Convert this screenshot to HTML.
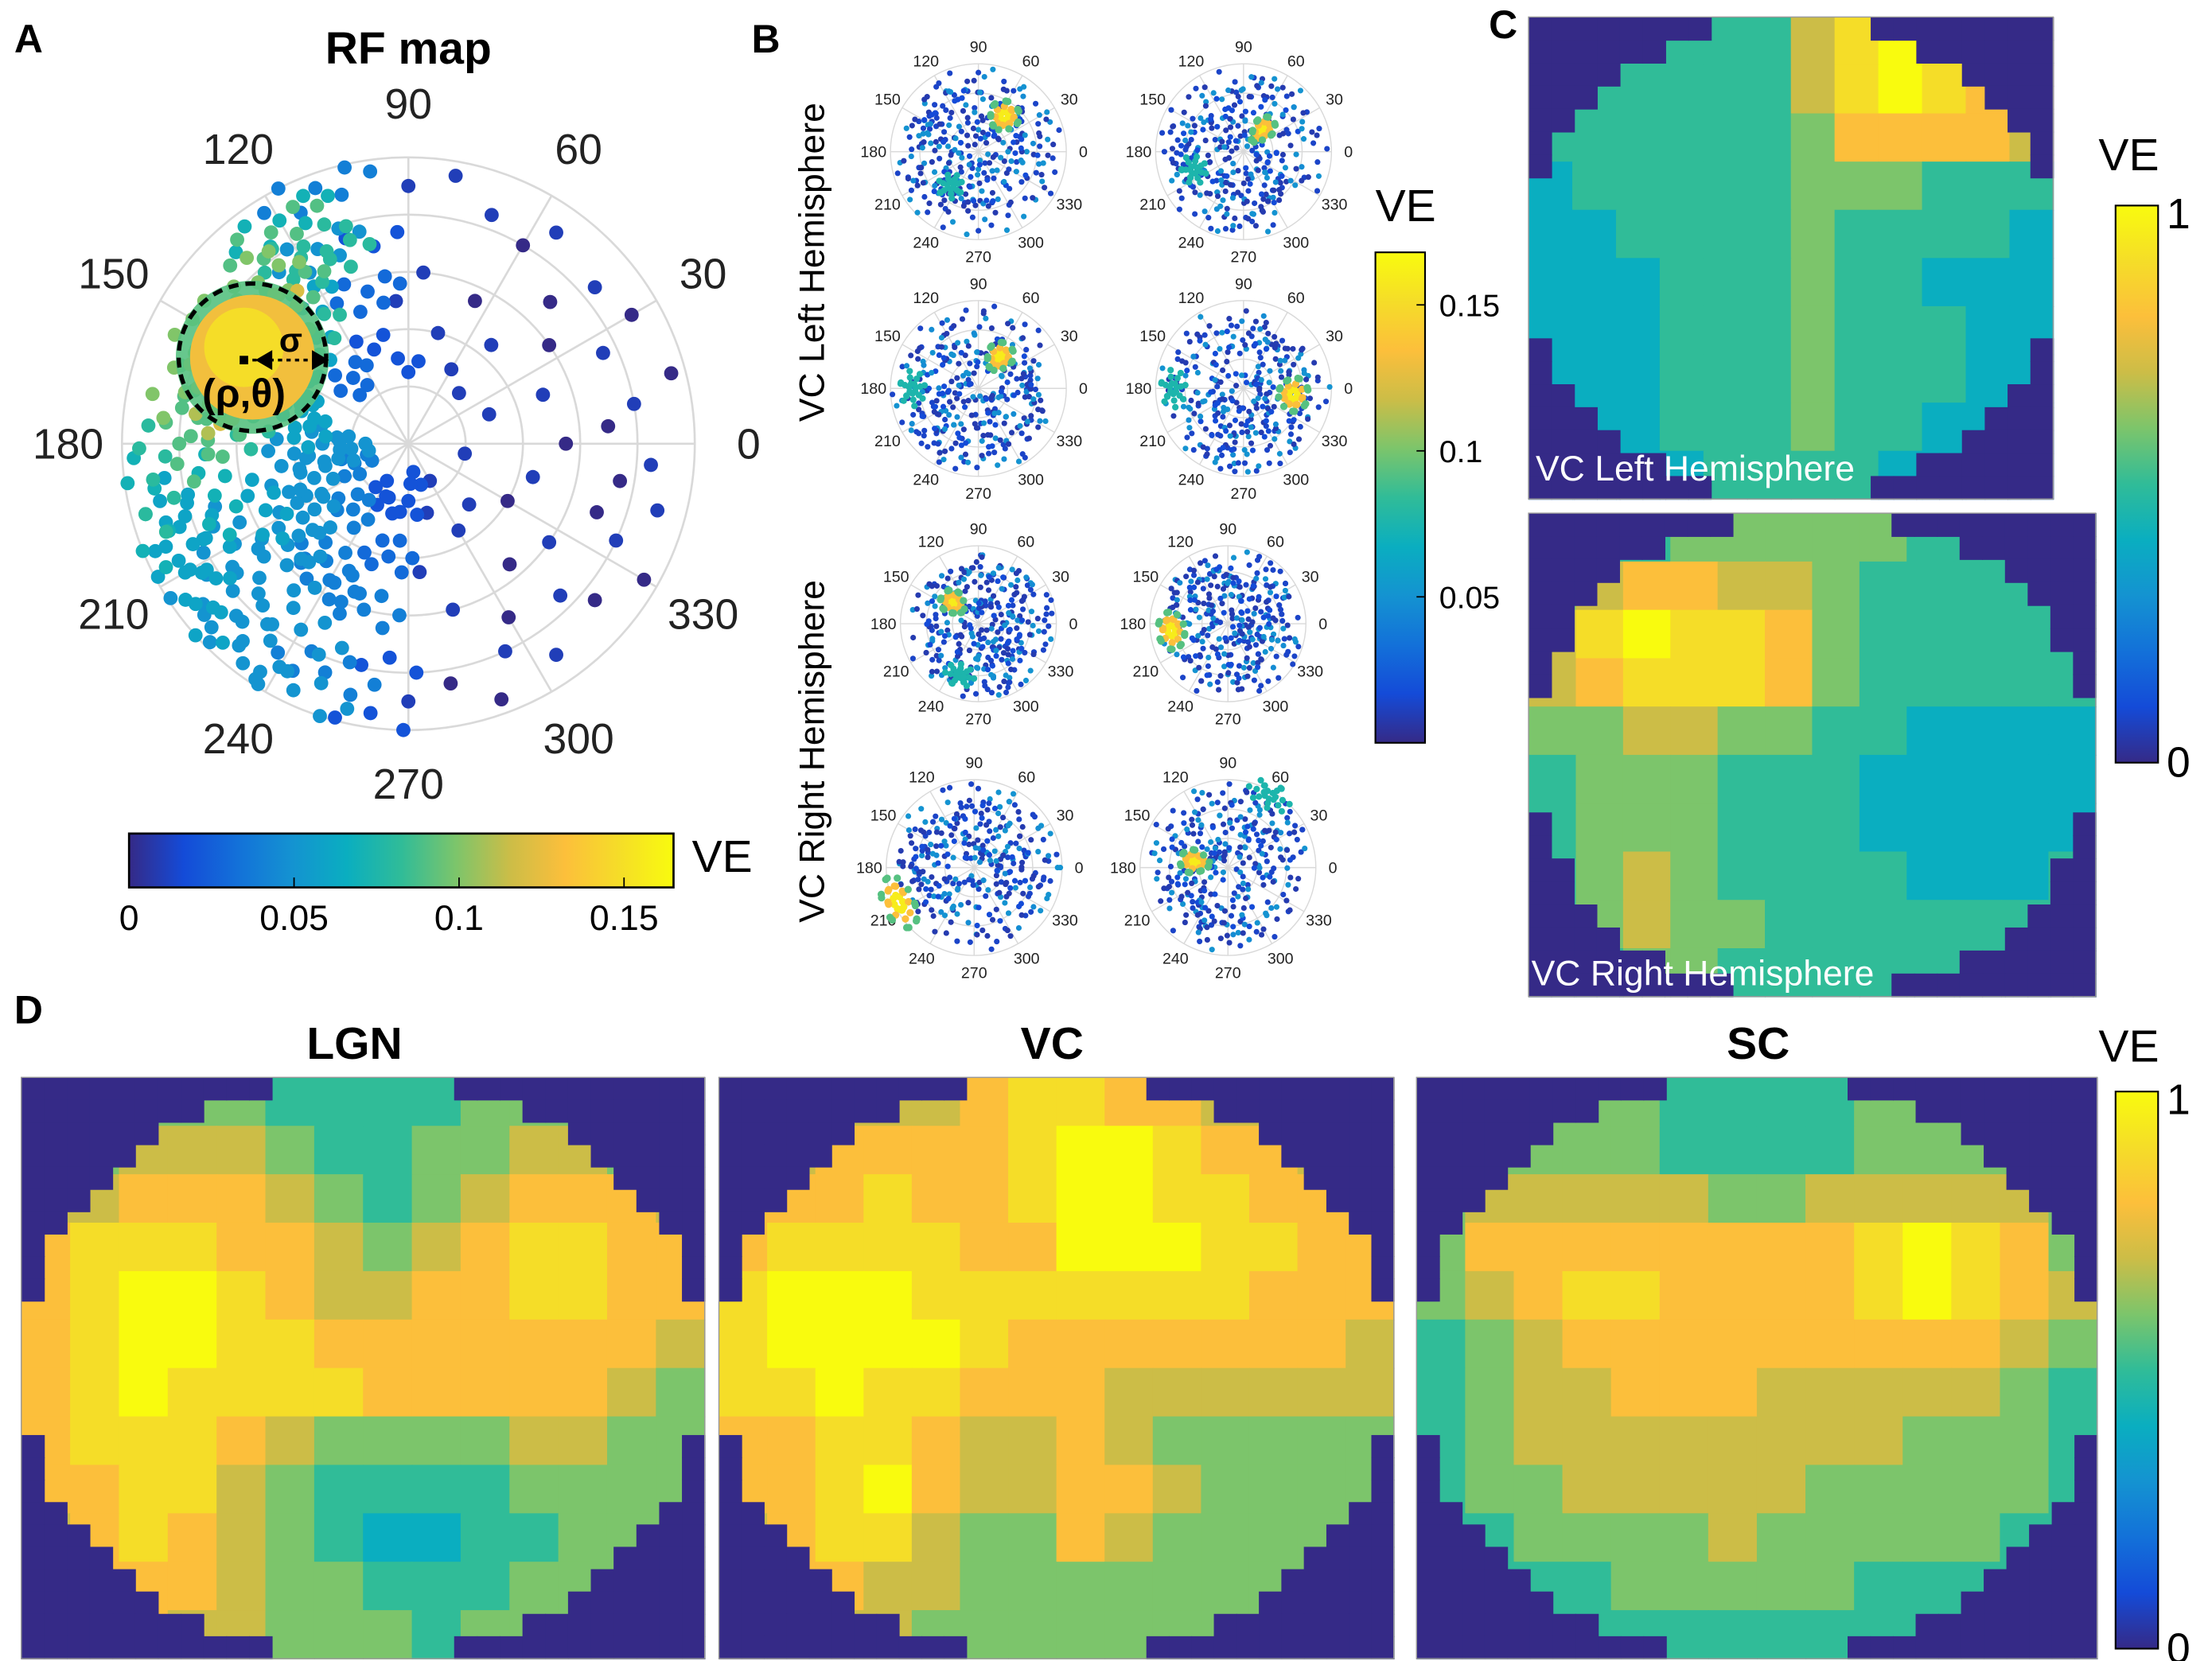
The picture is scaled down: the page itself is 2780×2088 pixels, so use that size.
<!DOCTYPE html>
<html><head><meta charset="utf-8"><style>
html,body{margin:0;padding:0;background:#fff;}
svg{display:block;font-family:"Liberation Sans",sans-serif;}
</style></head><body>
<svg id="fig" width="2780" height="2088" viewBox="0 0 1560 1171.7" xmlns="http://www.w3.org/2000/svg">
<defs>
<linearGradient id="gH" x1="0" x2="1" y1="0" y2="0"></linearGradient>
<linearGradient id="gV" x1="0" x2="0" y1="1" y2="0"></linearGradient>
</defs>
<g id="layer"></g>
<text x="10" y="37" font-size="28" font-weight="bold">A</text>
<text x="288" y="45" font-size="32" font-weight="bold" text-anchor="middle">RF map</text>
<text x="530" y="37" font-size="28" font-weight="bold">B</text>
<text x="1050" y="27" font-size="28" font-weight="bold">C</text>
<text x="10" y="722" font-size="28" font-weight="bold">D</text>
<text x="250" y="747" font-size="32" font-weight="bold" text-anchor="middle">LGN</text>
<text x="742" y="747" font-size="32" font-weight="bold" text-anchor="middle">VC</text>
<text x="1240" y="747" font-size="32" font-weight="bold" text-anchor="middle">SC</text>
<text transform="translate(581,185) rotate(-90)" font-size="25" text-anchor="middle">VC Left Hemisphere</text>
<text transform="translate(581,530) rotate(-90)" font-size="25" text-anchor="middle">VC Right Hemisphere</text>
</svg>
<script>
const NS='http://www.w3.org/2000/svg';
const L=document.getElementById('layer');
const PAR=[[0,'#352a87'],[.1,'#144bd8'],[.2,'#1371d9'],[.3,'#1493d1'],[.4,'#0aaec0'],[.5,'#30bc98'],[.6,'#7cc56b'],[.7,'#ccbd47'],[.8,'#fcbf3b'],[.9,'#f5dd28'],[1,'#f9fb0e']];

// ---- Panel A data: theta (deg), rho (fraction of radius), variance explained
const aTheta=[152,147,157,150,144,155,160,141,149,162,138,153,165,
 133,128,138,168,172,118,123,178,162,143,130,170,113,
 200,210,220,230,215,240,195,205,225,235,250,245,190,200,215,120,115,110,128,138,150,160,170,180,185,200,230,255,260,195,210,225,240,220,188,205,
 90,80,70,60,55,45,40,30,25,15,10,5,355,350,345,340,335,330,325,320,315,310,305,300,295,290,285,280,275,270,265,262,100,95,85,75,65,50,35,20,0,345,330,315,300,285,270,250,240,280,300,350,20,45,60,90,110,130,105];
const aRho=[.65,.63,.68,.71,.69,.61,.62,.61,.56,.66,.65,.76,.7,
 .73,.66,.82,.8,.65,.78,.88,.76,.86,.52,.5,.55,.7,
 .85,.7,.8,.9,.95,.75,.95,.55,.6,.5,.85,.95,.45,.35,.4,.9,.75,.95,.6,.45,.45,.4,.35,.3,.2,.2,.3,.6,.4,.7,.88,.98,.55,.5,.9,.78,
 .9,.95,.85,.8,.9,.7,.85,.9,.75,.95,.8,.7,.85,.75,.9,.7,.8,.95,.6,.85,.75,.55,.9,.7,.8,.95,.6,.85,.45,.9,.75,.95,.7,.5,.6,.4,.55,.45,.6,.5,.55,.45,.4,.3,.35,.25,.2,.2,.15,.1,.15,.2,.3,.25,.3,.25,.35,.3,.55];
const aVE=[.16,.15,.15,.16,.14,.14,.13,.13,.12,.12,.12,.13,.11,
 .1,.09,.1,.09,.09,.08,.09,.09,.1,.1,.08,.08,.08,
 .06,.05,.05,.05,.06,.05,.07,.06,.05,.04,.04,.05,.05,.05,.05,.07,.05,.04,.06,.06,.07,.06,.06,.05,.05,.04,.04,.04,.03,.07,.06,.05,.04,.05,.08,.06,
 .01,.01,.01,0,.01,0,.01,0,.01,0,.01,0,.01,0,.01,0,.01,0,.01,0,.01,0,.01,0,.01,0,.01,0,.01,.01,.02,.02,.02,.01,.01,.01,0,.01,0,.01,0,.01,0,.01,.01,.01,.02,.02,.02,.02,.01,.01,.01,.01,.01,.02,.02,.03,.03];
const aTicks=[0,0.05,0.1,0.15];

// ---- Panel B data
const bHotTheta=[54,49,56,353,140,187,205,170];
const bHotRho=[.5,.32,.43,.57,.42,.73,.95,.38];
const bSecTheta=[231,200,180,180,250,0,0,60];
const bSecRho=[.5,.6,.75,.8,.7,0,0,.95];
const bTicks=[0.05,0.1,0.15];

// ---- Heatmaps (VE x10)
const lgn=[[6,6,6,6,6,5,5,5,5,6,6,6,6,6],[6,6,7,7,7,6,5,5,6,6,7,7,6,6],[7,7,8,8,8,7,6,5,6,7,8,8,8,7],[8,9,9,9,8,8,7,6,7,8,9,9,8,8],[8,9,10,10,9,8,7,7,8,8,9,9,8,8],[8,9,10,10,9,9,8,8,8,8,8,8,8,7],[8,9,10,9,9,9,9,8,8,8,8,8,7,6],[8,9,9,9,8,7,6,6,6,6,7,7,6,6],[8,8,9,9,7,6,5,5,5,5,6,6,6,6],[7,8,9,8,7,6,5,4,4,5,5,6,6,6],[7,8,8,8,7,6,6,5,5,5,6,6,6,6],[7,7,8,7,7,6,6,6,5,6,6,6,6,6]];
const vc=[[7,7,7,7,7,8,9,9,8,8,7,7,7,7],[7,7,8,8,8,8,9,10,10,9,8,8,7,7],[8,8,8,9,8,8,9,10,10,9,9,8,8,8],[8,9,9,9,9,8,8,10,10,10,9,9,8,8],[9,10,10,10,9,9,9,9,9,9,9,8,8,8],[9,10,10,10,10,9,8,8,8,8,8,8,8,7],[9,9,10,9,9,8,8,8,7,7,7,7,7,7],[8,8,9,9,8,7,7,8,7,6,6,6,6,6],[8,8,9,10,8,7,7,8,8,7,6,6,6,6],[7,8,9,9,7,6,6,8,7,6,6,6,6,6],[7,8,8,7,7,6,6,6,6,6,6,6,6,6],[7,7,7,7,6,6,6,6,6,6,6,6,6,6]];
const sc=[[6,6,6,6,6,5,5,5,5,6,6,6,6,6],[6,6,6,6,6,5,5,5,5,6,6,6,6,6],[6,7,7,7,7,7,6,6,7,7,7,7,7,6],[6,8,8,8,8,8,8,8,8,9,10,9,8,6],[6,7,8,9,9,8,8,8,8,9,10,9,8,7],[5,6,7,8,8,8,8,8,8,8,8,8,7,6],[5,6,7,7,8,8,8,7,7,7,7,7,6,5],[5,6,7,7,7,7,7,7,7,7,6,6,6,5],[5,6,6,7,7,7,7,7,6,6,6,6,6,5],[5,5,6,6,6,6,7,6,6,6,6,6,5,5],[5,5,5,5,6,6,6,6,6,5,5,5,5,5],[5,5,5,5,5,5,5,5,5,5,5,5,5,5]];
const cLeft=[[5,5,5,5,5,5,7,9,10,9,8,7],[5,5,5,5,5,5,7,9,10,9,8,8],[5,5,5,5,5,5,6,8,8,8,8,7],[4,5,5,5,5,5,6,6,6,5,5,5],[4,4,5,5,5,5,6,5,5,5,5,4],[4,4,4,5,5,5,6,5,5,4,4,4],[4,4,4,5,5,5,6,5,5,5,4,4],[4,4,4,5,5,5,6,5,5,5,4,4],[4,4,4,5,5,5,6,5,5,4,4,4],[4,4,4,4,5,5,5,5,4,4,4,4]];
const cRight=[[5,5,5,6,6,6,6,6,5,5,5,5],[6,7,8,8,7,7,6,5,5,5,5,5],[7,9,10,9,9,8,6,5,5,5,5,5],[7,8,9,9,9,8,6,5,5,5,5,5],[6,6,7,7,6,6,5,5,4,4,4,4],[5,6,6,6,5,5,5,4,4,4,4,4],[5,6,6,6,5,5,5,4,4,4,4,4],[5,6,7,6,5,5,5,5,4,4,4,5],[5,6,7,6,6,5,5,5,5,5,5,5],[5,5,6,6,5,5,5,5,5,5,5,5]];

function hex(h){return [1,3,5].map(i=>parseInt(h.substr(i,2),16));}
function col(v){v=Math.max(0,Math.min(1,v));for(let i=1;i<PAR.length;i++){if(v<=PAR[i][0]){const a=PAR[i-1],b=PAR[i],t=(v-a[0])/(b[0]-a[0]);const A=hex(a[1]),B=hex(b[1]);return 'rgb('+A.map((x,k)=>Math.round(x+(B[k]-x)*t)).join(',')+')';}}return PAR[PAR.length-1][1];}
function el(tag,attrs,parent){const e=document.createElementNS(NS,tag);for(const k in attrs)e.setAttribute(k,attrs[k]);(parent||L).appendChild(e);return e;}
['gH','gV'].forEach(id=>{const g=document.getElementById(id);PAR.forEach(p=>{el('stop',{offset:p[0],'stop-color':p[1]},g);});});

function polarAxes(cx,cy,R,fs,off,rings,name){
  const g=el('g',{});
  
  
  for(let i=1;i<=rings;i++){el('circle',{cx:cx,cy:cy,r:R*i/rings,fill:'none',stroke:'#d9d9d9','stroke-width':fs>20?1.5:0.8},g);}
  for(let a=0;a<360;a+=30){const t=a*Math.PI/180;
    el('line',{x1:cx,y1:cy,x2:cx+R*Math.cos(t),y2:cy-R*Math.sin(t),stroke:'#d9d9d9','stroke-width':fs>20?1.5:0.8},g);
    const tx=el('text',{x:cx+(R+off)*Math.cos(t),y:cy-(R+off)*Math.sin(t)+fs*0.35,'font-size':fs,'text-anchor':'middle',fill:'#222'},g);
    tx.textContent=a;}
  return g;
}
function dot(g,cx,cy,R,th,rh,v,r,name){const t=th*Math.PI/180;const c=el('circle',{cx:cx+rh*R*Math.cos(t),cy:cy-rh*R*Math.sin(t),r:r,fill:col(v)},g);
  
  }

// Panel A
const ACX=288,ACY=313,AR=202,AMAX=0.165;
polarAxes(ACX,ACY,AR,30,38,5,'rf-map-polar-axes');
const gA=el('g',{});


const order=aVE.map((v,i)=>i).sort((a,b)=>aVE[a]-aVE[b]);
const jit=[[0,0],[7,.05],[-7,.04],[5,-.06],[-5,-.05],[12,0],[-12,.01]];
order.forEach(i=>{const n=aVE[i]>=0.03?jit.length:(aVE[i]>=0.015?3:1);
  for(let k=0;k<n;k++){const rh=aRho[i]+jit[k][1];if(rh>1||rh<0)continue;dot(gA,ACX,ACY,AR,aTheta[i]+jit[k][0],rh,aVE[i]/AMAX,5,'rf-point');}});
el('circle',{cx:178,cy:252,r:54,fill:col(0.55),opacity:0.9});
el('circle',{cx:178,cy:252,r:44,fill:col(0.78)});
el('circle',{cx:172,cy:245,r:28,fill:col(0.9)});
el('circle',{cx:178,cy:252,r:52,fill:'none',stroke:'#000','stroke-width':3,'stroke-dasharray':'7,5'});
el('line',{x1:172,y1:254,x2:232,y2:254,stroke:'#000','stroke-width':2,'stroke-dasharray':'3,3'});
el('path',{d:'M180 254 l12 -7 v14 z M232 254 l-12 -7 v14 z',fill:'#000'});
el('rect',{x:169,y:251,width:6,height:6,fill:'#000'});
let t=el('text',{x:205,y:248,'font-size':24,'font-weight':'bold','text-anchor':'middle'});t.textContent='σ';


t=el('text',{x:172,y:287,'font-size':28,'font-weight':'bold','text-anchor':'middle'});t.textContent='(ρ,θ)';


const cbA=el('rect',{x:91,y:588,width:384,height:38,fill:'url(#gH)',stroke:'#000','stroke-width':1.5});


aTicks.forEach(v=>{const x=91+384*v/AMAX;el('line',{x1:x,y1:626,x2:x,y2:619,stroke:'#000'});const tt=el('text',{x:x,y:656,'font-size':25,'text-anchor':'middle'});tt.textContent=String(v);
  
  });
t=el('text',{x:488,y:615,'font-size':32});t.textContent='VE';



// Panel B
const bCX=[690,877,690,877,690,866,687,866],bCY=[107,107,274,274,440,440,612,612],bR=[62,62,62,62,55,55,62,62];
for(let p=0;p<8;p++){
  polarAxes(bCX[p],bCY[p],bR[p],11,12,3,'small-polar-axes-'+(p+1));
  const g=el('g',{});
  
  
  aTheta.forEach((th,i)=>{const rot=(th+p*37)%360;dot(g,bCX[p],bCY[p],bR[p],rot,Math.min(1,aRho[(i+p*7)%aRho.length]),(i%3==0)?0.3:0.08,2,'small-point');});
  aTheta.forEach((th,i)=>{dot(g,bCX[p],bCY[p],bR[p],(th*1.7+p*53)%360,aRho[(i+p*3)%aRho.length]*0.9,(i%4==1)?0.28:0.05,2,'small-point');});
  aTheta.forEach((th,i)=>{if(i%2==0)dot(g,bCX[p],bCY[p],bR[p],(th*2.3+p*71+15)%360,aRho[(i+p*5)%aRho.length]*0.75,(i%3==1)?0.3:0.1,2,'small-point');});
  const cl=el('g',{},g);
  if(bSecRho[p]>0){for(let k=0;k<24;k++){const rr=0.04+0.1*(k%3)/2;dot(cl,bCX[p],bCY[p],bR[p],bSecTheta[p]+Math.cos(k*0.9)*rr*110,bSecRho[p]+Math.sin(k*0.9)*rr,0.45,2.3,'small-point');}}
  for(let k=0;k<36;k++){const ring=k<10?0.05:(k<22?0.11:0.17);dot(cl,bCX[p],bCY[p],bR[p],bHotTheta[p]+Math.cos(k*0.8)*ring*110,bHotRho[p]+Math.sin(k*0.8)*ring,k<10?0.95:(k<22?0.8:0.55),2.6,'hot-point');}
}
const cbB=el('rect',{x:970,y:178,width:35,height:346,fill:'url(#gV)',stroke:'#000','stroke-width':1.2});


bTicks.forEach(v=>{const y=524-346*v/0.168;el('line',{x1:1005,y1:y,x2:999,y2:y,stroke:'#000'});const tt=el('text',{x:1015,y:y+8,'font-size':22});tt.textContent=String(v);
  
  });
t=el('text',{x:970,y:156,'font-size':32});t.textContent='VE';



// Heatmaps
function heat(grid,x,y,w,h,name){
  const g=el('g',{});
  
  
  el('rect',{x:x,y:y,width:w,height:h,fill:'#352a87'},g);
  const n=grid.length,m=grid[0].length,cw=w/m,ch=h/n;
  grid.forEach((row,r)=>row.forEach((v,c)=>{
    const cell=el('rect',{x:x+c*cw,y:y+r*ch,width:cw+0.5,height:ch+0.5,fill:col(v/10)},g);
    
    }));
  // fine circular mask (style, not data)
  const SM=Math.round(w/16),SN=Math.round(h/16),sw=w/SM,sh=h/SN;
  for(let r=0;r<SN;r++)for(let c=0;c<SM;c++){const dx=(c+.5)/SM-.5,dy=(r+.5)/SN-.5;if(dx*dx+dy*dy>0.25)el('rect',{x:x+c*sw,y:y+r*sh,width:sw+0.5,height:sh+0.5,fill:'#352a87'},g);}
  el('rect',{x:x,y:y,width:w,height:h,fill:'none',stroke:'#999','stroke-width':0.8},g);
}
heat(cLeft,1078,12,370,340,'vc-left-heatmap');
heat(cRight,1078,362,400,341,'vc-right-heatmap');
heat(lgn,15,760,482,410,'lgn-heatmap');
heat(vc,507,760,476,410,'vc-heatmap');
heat(sc,999,760,480,410,'sc-heatmap');
t=el('text',{x:1083,y:339,'font-size':25,fill:'#fff'});t.textContent='VC Left Hemisphere';


t=el('text',{x:1080,y:695,'font-size':25,fill:'#fff'});t.textContent='VC Right Hemisphere';


function vbar(x,y,h,lbly,name){
  const r=el('rect',{x:x,y:y,width:30,height:h,fill:'url(#gV)',stroke:'#000','stroke-width':1.2});
  
  
  let a=el('text',{x:x+36,y:y+16,'font-size':30});a.textContent='1';
  a=el('text',{x:x+36,y:y+h+10,'font-size':30});a.textContent='0';
  a=el('text',{x:x-12,y:lbly,'font-size':32});a.textContent='VE';
}
vbar(1492,145,393,120,'colorbar-c');
vbar(1492,770,393,749,'colorbar-d');
</script>
</body></html>
